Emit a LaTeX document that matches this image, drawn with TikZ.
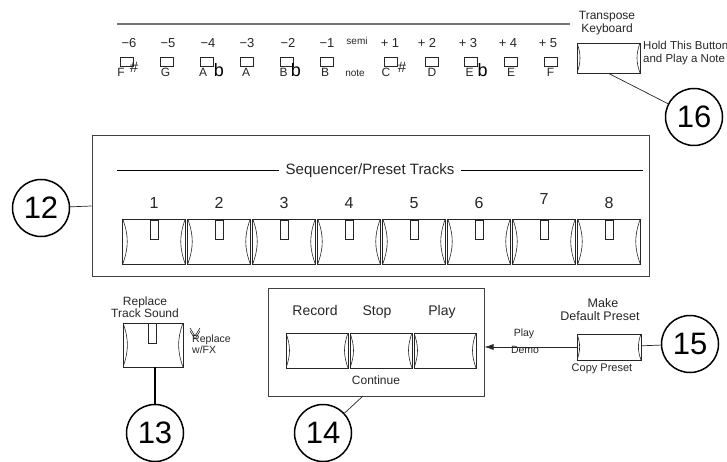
\documentclass[tikz,border=0pt]{standalone}
\usepackage{fontspec}
\setmainfont{Liberation Sans}
\usetikzlibrary{arrows.meta}
\newcommand\setfs[1]{\fontsize{#1}{#1}\selectfont}
\tikzset{
  btn/.style={draw=black!85, line width=0.7pt, rectangle, inner sep=0pt,
    path picture={
      \draw[line width=0.6pt] (path picture bounding box.north west) to[bend left=20] (path picture bounding box.south west);
      \draw[line width=0.6pt] (path picture bounding box.north east) to[bend right=20] (path picture bounding box.south east);
    }},
  ind/.style={draw=black!85, line width=0.6pt, minimum width=8pt, minimum height=19pt, inner sep=0pt},
  keybox/.style={draw=black!85, line width=0.6pt, minimum width=13pt, minimum height=9pt, inner sep=0pt},
  callout/.style={circle, draw, line width=1.5pt, minimum size=57pt, inner sep=0pt, font=\setfs{31}},
  txt/.style={inner sep=0pt, anchor=base, text=black!85},
  panel/.style={draw=black!75, line width=1pt, rectangle, inner sep=0pt},
  lead/.style={draw=black!85, line width=0.7pt},
}
\begin{document}
\begin{tikzpicture}[x=1pt,y=1pt]
\useasboundingbox (0,0) rectangle (727,-462);

% ---- transpose keyboard strip ----
\coordinate (rl) at (117,-24);
\coordinate (rr) at (570,-24);
\draw[black!55, line width=1.8pt] (rl) -- (rr);
\foreach \kx/\sx/\sl/\nx/\nl [count=\c] in
 {127/129/−6/121/F, 167/168/−5/165.5/G, 207/208/−4/203/A, 247/247/−3/246/A,
  287/288/−2/283.5/B, 327/327/−1/325/B, 391/390/+ 1/386/C, 432/427/+ 2/432/D,
  471/468/+ 3/469.5/E, 511/508/+ 4/511/E, 551/548/+ 5/550.5/F}{
  \node[keybox] (key\c) at (\kx,-61.5) {};
  \node[txt, font=\setfs{13}] (semi\c) at (\sx,-48) {\sl};
  \node[txt, font=\setfs{12}] (note\c) at (\nx,-77) {\nl};
}
\node[txt, font=\setfs{15}] (sh1) at (134,-73) {\#};
\node[txt, font=\setfs{15}] (sh2) at (402,-73) {\#};
\node[txt, font=\setfs{18}, text=black] (fl1) at (219,-77) {b};
\node[txt, font=\setfs{18}, text=black] (fl2) at (296,-77) {b};
\node[txt, font=\setfs{18}, text=black] (fl3) at (482.5,-77) {b};
\node[txt, font=\setfs{10}] (semil) at (357,-45) {semi};
\node[txt, font=\setfs{10}] (notel) at (355,-77) {note};

\node[txt, font=\setfs{12}] (tr1) at (607,-20) {Transpose};
\node[txt, font=\setfs{12}] (tr2) at (607,-33) {Keyboard};
\node[txt, anchor=base west, font=\setfs{11.5}] (hold1) at (643,-50) {Hold This Button};
\node[txt, anchor=base west, font=\setfs{11.5}] (hold2) at (643,-63) {and Play a Note};
\node[btn, minimum width=63pt, minimum height=30pt] (transp) at (608.5,-58) {};
\node[callout] (c16) at (694,-117) {16};
\draw[lead] (transp.south) -- (c16);

% ---- sequencer / preset tracks ----
\node[panel, minimum width=557pt, minimum height=140pt] (seq) at (370.5,-206) {};
\node[txt, font=\setfs{15}, inner xsep=6pt] (seqt) at (370,-175) {Sequencer/Preset Tracks};
\coordinate (sl) at (117,-170);
\coordinate (sr) at (643,-170);
\draw[line width=0.8pt] (sl) -- (sl -| seqt.west);
\draw[line width=0.8pt] (sr) -- (sr -| seqt.east);
\foreach \i/\ny in {1/208,2/208,3/208,4/208,5/208,6/208,7/205,8/208}{
  \pgfmathsetmacro\cx{154+65*(\i-1)}
  \node[btn, minimum width=62.5pt, minimum height=45pt] (tb\i) at (\cx,-241.5) {};
  \node[ind] (ti\i) at (\cx,-229.5) {};
  \node[txt, font=\setfs{16}] (tn\i) at (\cx,-\ny) {\i};
}
\node[callout] (c12) at (41,-208) {12};
\draw[lead] (c12) -- (seq.west);

% ---- replace track sound ----
\node[txt, font=\setfs{12}] (rt1) at (145,-305) {Replace};
\node[txt, font=\setfs{12}] (rt2) at (145,-317) {Track Sound};
\node[btn, minimum width=60pt, minimum height=44pt] (rbtn) at (153,-345) {};
\node[ind, minimum height=20pt] (rind) at (152,-333) {};
\draw[line width=0.5pt] (190,-328) -- (195,-336) -- (200,-328);
\draw[line width=0.5pt] (190,-331) -- (195,-339) -- (200,-331);
\node[txt, anchor=base west, font=\setfs{10.5}] (wfx1) at (192,-342) {Replace};
\node[txt, anchor=base west, font=\setfs{10.5}] (wfx2) at (192,-353) {w/FX};
\node[callout] (c13) at (155,-433) {13};
\draw[line width=2pt] (c13.north |- rbtn.south) -- (c13.north);

% ---- transport ----
\node[panel, minimum width=216pt, minimum height=108pt] (tbox) at (376,-342) {};
\node[btn, minimum width=62pt, minimum height=35pt] (rec) at (317,-350.5) {};
\node[btn, minimum width=62pt, minimum height=35pt] (stop) at (381,-350.5) {};
\node[btn, minimum width=62pt, minimum height=35pt] (play) at (445,-350.5) {};
\node[txt, font=\setfs{14}] (recl) at (315,-315) {Record};
\node[txt, font=\setfs{14}] (stopl) at (377,-315) {Stop};
\node[txt, font=\setfs{14}] (playl) at (442,-315) {Play};
\node[txt, font=\setfs{12}] (cont) at (376,-384) {Continue};
\node[callout] (c14) at (323,-433) {14};
\coordinate (t14) at (363,-396);
\draw[lead] (t14) -- (c14);

% ---- make default preset ----
\node[txt, font=\setfs{12.5}] (mk1) at (603,-307) {Make};
\node[txt, font=\setfs{12.5}] (mk2) at (600,-320) {Default Preset};
\node[btn, minimum width=64pt, minimum height=26pt] (dpre) at (609,-347) {};
\node[txt, font=\setfs{11}] (cpy) at (602,-371) {Copy Preset};
\node[txt, font=\setfs{10.5}] (pd1) at (524,-336) {Play};
\node[txt, font=\setfs{10.5}] (pd2) at (525,-353) {Demo};
\draw[lead, -{Latex[length=9pt,width=6pt]}] (dpre) -- (dpre -| tbox.east);
\node[callout] (c15) at (690,-344) {15};
\draw[lead] (dpre) -- (c15);
\end{tikzpicture}
\end{document}
